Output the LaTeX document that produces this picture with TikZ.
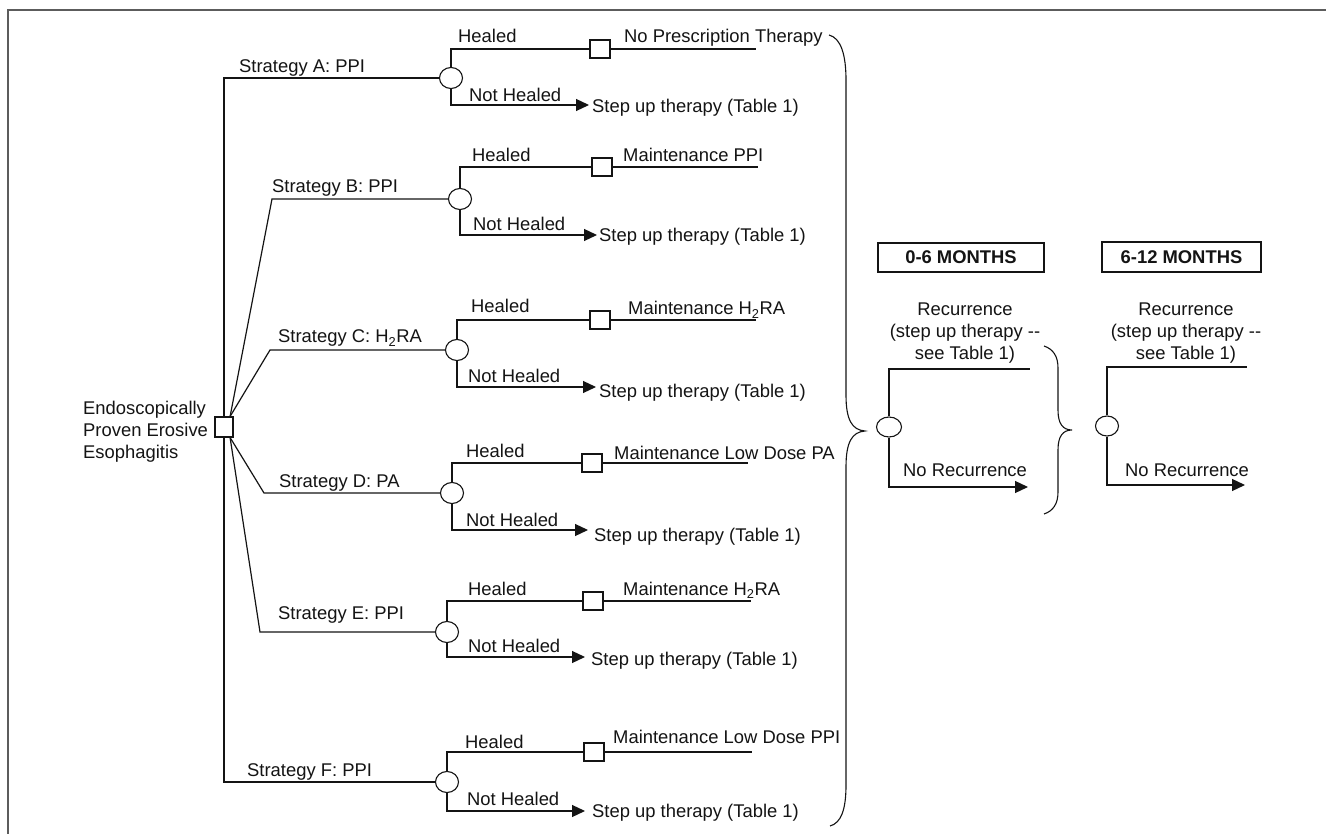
\documentclass[tikz,border=0pt]{standalone}
\usepackage{fontspec}
\setmainfont{Liberation Sans}
\usetikzlibrary{shapes.geometric,arrows.meta,calc}
\definecolor{ink}{HTML}{141414}
\definecolor{framegray}{HTML}{5C5C5C}
\begin{document}
\begin{tikzpicture}[x=1pt,y=-1pt,
  conn/.style={draw=ink, line width=1.2pt},
  brc/.style={draw=ink, line width=1.1pt},
  arr/.style={conn, -{Triangle[length=13pt,width=12pt]}},
  chance/.style={ellipse, draw=ink, line width=1.1pt, fill=white, minimum width=23pt, minimum height=21pt, inner sep=0pt},
  decision/.style={rectangle, draw=ink, line width=1.1pt, fill=white, minimum width=20pt, minimum height=18pt, inner sep=0pt},
  lbl/.style={font=\fontsize{18.4}{22}\selectfont, text=ink, inner sep=0pt},
  hdr/.style={draw=ink, line width=1.1pt, font=\fontsize{18.4}{22}\selectfont\bfseries, text=ink, inner sep=0pt},
]
\useasboundingbox (0,0) rectangle (1326,834);
\fill[white] (0,0) rectangle (1326,834);
\draw[framegray, line width=2pt] (8,834) -- (8,10) -- (1326,10);

% root
\node[decision, minimum width=18pt, minimum height=20pt] (root) at (224,427) {};
\node[lbl, anchor=west, align=left] (rootlbl) at (83,431.5) {Endoscopically\\Proven Erosive\\Esophagitis};

% ---------- Strategy A
\coordinate (kA) at (224,78);
\node[chance] (cA) at (451,78) {};
\node[decision] (sA) at (600,49) {};
\coordinate (eA) at (756,49);
\coordinate (tA) at (589,105);
\draw[conn] (root.north) -- (kA) -- (cA.west);
\draw[conn] (cA.north) |- (sA.west);
\draw[conn] (sA.east) -- (eA);
\draw[arr] (cA.south) |- (tA);
\node[lbl, anchor=base west] (gA) at (239,73) {Strategy A: PPI};
\node[lbl, anchor=base west] (hA) at (458,43) {Healed};
\node[lbl, anchor=base west] (nA) at (469,102) {Not Healed};
\node[lbl, anchor=base west] (mA) at (624,43) {No Prescription Therapy};
\node[lbl, anchor=base west] (uA) at (592,113) {Step up therapy (Table 1)};

% ---------- Strategy B
\coordinate (kB) at (272,199);
\node[chance] (cB) at (460,199) {};
\node[decision] (sB) at (602,167) {};
\coordinate (eB) at (758,167);
\coordinate (tB) at (597,235);
\draw[conn] (root.60) -- (kB) -- (cB.west);
\draw[conn] (cB.north) |- (sB.west);
\draw[conn] (sB.east) -- (eB);
\draw[arr] (cB.south) |- (tB);
\node[lbl, anchor=base west] (gB) at (272,193) {Strategy B: PPI};
\node[lbl, anchor=base west] (hB) at (472,162) {Healed};
\node[lbl, anchor=base west] (nB) at (473,231) {Not Healed};
\node[lbl, anchor=base west] (mB) at (623,162) {Maintenance PPI};
\node[lbl, anchor=base west] (uB) at (599,242) {Step up therapy (Table 1)};

% ---------- Strategy C
\coordinate (kC) at (270,350);
\node[chance] (cC) at (457,350) {};
\node[decision] (sC) at (600,320) {};
\coordinate (eC) at (756,320);
\coordinate (tC) at (596,387);
\draw[conn] (root.60) -- (kC) -- (cC.west);
\draw[conn] (cC.north) |- (sC.west);
\draw[conn] (sC.east) -- (eC);
\draw[arr] (cC.south) |- (tC);
\node[lbl, anchor=base west] (gC) at (278,343) {Strategy C: H\textsubscript{2}RA};
\node[lbl, anchor=base west] (hC) at (471,313) {Healed};
\node[lbl, anchor=base west] (nC) at (468,382) {Not Healed};
\node[lbl, anchor=base west] (mC) at (628,315) {Maintenance H\textsubscript{2}RA};
\node[lbl, anchor=base west] (uC) at (599,397) {Step up therapy (Table 1)};

% ---------- Strategy D
\coordinate (kD) at (264,493);
\node[chance] (cD) at (452,493) {};
\node[decision] (sD) at (592,463) {};
\coordinate (eD) at (748,463);
\coordinate (tD) at (588,530);
\draw[conn] (root.-60) -- (kD) -- (cD.west);
\draw[conn] (cD.north) |- (sD.west);
\draw[conn] (sD.east) -- (eD);
\draw[arr] (cD.south) |- (tD);
\node[lbl, anchor=base west] (gD) at (279,487) {Strategy D: PA};
\node[lbl, anchor=base west] (hD) at (466,457) {Healed};
\node[lbl, anchor=base west] (nD) at (466,526) {Not Healed};
\node[lbl, anchor=base west] (mD) at (614,459) {Maintenance Low Dose PA};
\node[lbl, anchor=base west] (uD) at (594,541) {Step up therapy (Table 1)};

% ---------- Strategy E
\coordinate (kE) at (260,632);
\node[chance] (cE) at (447,632) {};
\node[decision] (sE) at (593,601) {};
\coordinate (eE) at (751,601);
\coordinate (tE) at (585,657);
\draw[conn] (root.-60) -- (kE) -- (cE.west);
\draw[conn] (cE.north) |- (sE.west);
\draw[conn] (sE.east) -- (eE);
\draw[arr] (cE.south) |- (tE);
\node[lbl, anchor=base west] (gE) at (278,619) {Strategy E: PPI};
\node[lbl, anchor=base west] (hE) at (468,595) {Healed};
\node[lbl, anchor=base west] (nE) at (468,652) {Not Healed};
\node[lbl, anchor=base west] (mE) at (623,595) {Maintenance H\textsubscript{2}RA};
\node[lbl, anchor=base west] (uE) at (591,665) {Step up therapy (Table 1)};

% ---------- Strategy F
\coordinate (kF) at (224,782);
\node[chance] (cF) at (447,782) {};
\node[decision] (sF) at (594,752) {};
\coordinate (eF) at (752,752);
\coordinate (tF) at (585,811);
\draw[conn] (root.south) -- (kF) -- (cF.west);
\draw[conn] (cF.north) |- (sF.west);
\draw[conn] (sF.east) -- (eF);
\draw[arr] (cF.south) |- (tF);
\node[lbl, anchor=base west] (gF) at (247,776) {Strategy F: PPI};
\node[lbl, anchor=base west] (hF) at (465,748) {Healed};
\node[lbl, anchor=base west] (nF) at (467,805) {Not Healed};
\node[lbl, anchor=base west] (mF) at (613,743) {Maintenance Low Dose PPI};
\node[lbl, anchor=base west] (uF) at (592,817) {Step up therapy (Table 1)};

% ---------- big brace
\draw[brc] (829,35) .. controls (841,38) and (846,55) .. (846,80) -- (846,395)
  .. controls (846,420) and (852,430) .. (865,431)
  .. controls (852,432) and (846,442) .. (846,467) -- (846,785)
  .. controls (846,810) and (841,823) .. (830,826);

% ---------- headers
\node[hdr, minimum width=166pt, minimum height=29pt] (h1) at (961,257.5) {0-6 MONTHS};
\node[hdr, minimum width=159pt, minimum height=30pt] (h2) at (1181.5,257) {6-12 MONTHS};

% ---------- 0-6 months
\node[lbl, align=center] (r1) at (965,333.5) {Recurrence\\(step up therapy -\kern0pt-\\see Table 1)};
\node[chance, minimum width=25pt, minimum height=20pt] (q1) at (889,427) {};
\coordinate (qa1) at (1030,369);
\coordinate (qb1) at (1028,487);
\draw[conn] (q1.north) |- (qa1);
\draw[arr] (q1.south) |- (qb1);
\node[lbl, anchor=base west] (nr1) at (903,476) {No Recurrence};

% small brace
\draw[brc] (1044,346) .. controls (1053,349) and (1058,356) .. (1058,368) -- (1058,410)
  .. controls (1058,424) and (1063,430) .. (1072,430)
  .. controls (1063,430) and (1058,436) .. (1058,450) -- (1058,492)
  .. controls (1058,504) and (1053,511) .. (1044,514);

% ---------- 6-12 months
\node[lbl, align=center] (r2) at (1186,333.5) {Recurrence\\(step up therapy -\kern0pt-\\see Table 1)};
\node[chance, minimum width=23pt, minimum height=20pt] (q2) at (1107,426) {};
\coordinate (qa2) at (1247,367);
\coordinate (qb2) at (1245,485);
\draw[conn] (q2.north) |- (qa2);
\draw[arr] (q2.south) |- (qb2);
\node[lbl, anchor=base west] (nr2) at (1125,476) {No Recurrence};
\end{tikzpicture}
\end{document}
